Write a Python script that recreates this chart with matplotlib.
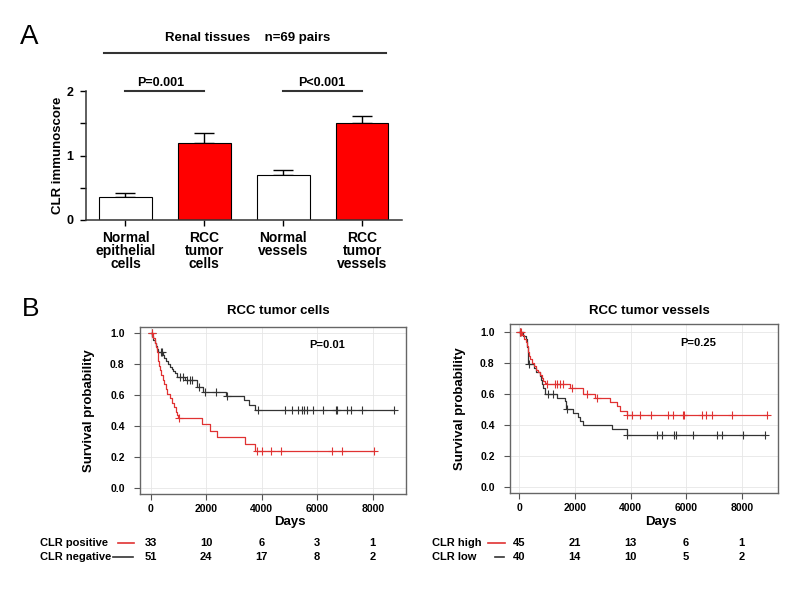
import matplotlib
matplotlib.use("Agg")
import matplotlib.pyplot as plt
import numpy as np
from matplotlib import transforms
from matplotlib.lines import Line2D

plt.rcParams["font.family"] = ["Liberation Sans", "DejaVu Sans"]
plt.rcParams["font.weight"] = "bold"

# Panel A data
groups = ["Normal\nepithelial\ncells", "RCC\ntumor\ncells", "Normal\nvessels", "RCC\ntumor\nvessels"]
scores = [0.35, 1.19, 0.70, 1.51]
score_err = [0.07, 0.16, 0.07, 0.11]
bar_colors = ["white", "red", "white", "red"]

# Panel B, RCC tumor cells
pos_t = [0, 80, 150, 190, 220, 250, 280, 310, 340, 380, 430, 480, 540, 600, 680, 760, 830, 900, 960, 1000,
         1850, 2150, 2380, 3400, 3760]
pos_s = [1.0, 0.97, 0.94, 0.91, 0.88, 0.85, 0.82, 0.79, 0.76, 0.73, 0.70, 0.67, 0.64, 0.61, 0.58, 0.55, 0.52,
         0.49, 0.47, 0.45, 0.41, 0.37, 0.33, 0.285, 0.24]
pos_cens = [30, 1010, 3830, 4020, 4340, 4690, 6520, 6900, 8050]
neg_t = [0, 50, 100, 150, 200, 240, 280, 430, 490, 560, 630, 700, 760, 820, 880, 960, 1250, 1680, 1900, 2700,
         3350, 3550, 3750]
neg_s = [1.0, 0.98, 0.96, 0.94, 0.92, 0.90, 0.88, 0.86, 0.84, 0.82, 0.80, 0.785, 0.77, 0.755, 0.74, 0.72, 0.70,
         0.65, 0.62, 0.595, 0.565, 0.535, 0.505]
neg_cens = [40, 370, 410, 1060, 1170, 1310, 1400, 1490, 1730, 1950, 2350, 2750, 3870, 4840, 5080, 5300, 5440,
            5535, 5622, 5860, 6200, 6680, 6725, 7064, 7208, 7605, 8780]

# Panel B, RCC tumor vessels
high_t = [0, 90, 180, 230, 270, 300, 330, 360, 400, 445, 520, 600, 680, 745, 800, 865, 920, 985, 1825, 2305,
          2725, 3265, 3505, 3625, 3865]
high_s = [1.0, 0.978, 0.956, 0.933, 0.911, 0.889, 0.867, 0.844, 0.822, 0.80, 0.778, 0.756, 0.74, 0.72, 0.70,
          0.68, 0.67, 0.66, 0.635, 0.60, 0.57, 0.545, 0.52, 0.49, 0.46]
high_cens = [20, 60, 1010, 1285, 1345, 1465, 1585, 1885, 2425, 2785, 3890, 4043, 4342, 4727, 5360, 5518, 5878,
             5935, 6561, 6716, 6921, 7641, 8900]
low_t = [0, 115, 235, 265, 285, 300, 312, 325, 540, 600, 745, 790, 830, 865, 920, 1345, 1645, 1690, 1945, 2125,
         2185, 2305, 3325, 3865]
low_s = [1.0, 0.975, 0.95, 0.925, 0.90, 0.875, 0.85, 0.79, 0.765, 0.74, 0.715, 0.69, 0.665, 0.64, 0.60, 0.575,
         0.55, 0.50, 0.475, 0.45, 0.425, 0.40, 0.37, 0.335]
low_cens = [30, 360, 1045, 1225, 1720, 3890, 4943, 5123, 5566, 5638, 6262, 7103, 7283, 8063, 8844]

risk_days = [0, 2000, 4000, 6000, 8000]
pos_risk = [33, 10, 6, 3, 1]
neg_risk = [51, 24, 17, 8, 2]
high_risk = [45, 21, 13, 6, 1]
low_risk = [40, 14, 10, 5, 2]

KM_RED = "#e03232"
KM_BLACK = "#333333"
W, H = 800, 605

fig = plt.figure(figsize=(8, 6.05), dpi=100)

# ---- Panel A ----
axA = fig.add_axes([86 / W, 1 - 220 / H, 315.7 / W, 129 / H])
x = np.arange(len(groups))
axA.bar(x, scores, width=0.665, color=bar_colors, edgecolor="black", linewidth=0.8, zorder=2)
axA.errorbar(x, scores, yerr=[np.zeros(4), score_err], fmt="none", ecolor="black",
             elinewidth=1, capsize=7, capthick=1, zorder=1)
axA.set_xlim(-0.5, 3.5)
axA.set_ylim(0, 2)
axA.set_yticks([0, 1, 2])
axA.set_yticks([0.5, 1.5], minor=True)
axA.set_xticks(x)
axA.set_xticklabels(groups, fontsize=10, linespacing=0.92)
axA.tick_params(axis="y", which="both", direction="out", length=4, width=1, pad=5, labelsize=9)
axA.tick_params(axis="x", direction="out", length=4, width=1, pad=4)
for sp in ["top", "right"]:
    axA.spines[sp].set_visible(False)
for sp in ["left", "bottom"]:
    axA.spines[sp].set_color("#333333")
    axA.spines[sp].set_linewidth(1.1)
axA.set_ylabel("CLR immunoscore", fontsize=9.5, fontweight="bold")
axA.yaxis.set_label_coords(-0.07, 0.5)

axA.plot([0, 1], [2, 2], color="#333333", lw=1.5, clip_on=False)
axA.plot([2, 3], [2, 2], color="#333333", lw=1.5, clip_on=False)
axA.text(0.45, 2.13, "P=0.001", ha="center", va="center", fontsize=9)
axA.text(2.48, 2.13, "P<0.001", ha="center", va="center", fontsize=9)

fig.text(248 / W, 1 - 38 / H, "Renal tissues    n=69 pairs", ha="center", va="center", fontsize=9.5)
fig.add_artist(Line2D([104 / W, 386 / W], [1 - 53.3 / H] * 2, color="#333333", lw=1.5))

fig.text(20 / W, 1 - 37 / H, "A", ha="left", va="center", fontsize=20, fontweight="normal")
fig.text(22 / W, 1 - 309 / H, "B", ha="left", va="center", fontsize=19, fontweight="normal")


# ---- Panel B ----
def km_curve(ax, t, s, cens, color):
    end = max(t[-1], max(cens))
    ax.step(list(t) + [end], list(s) + [s[-1]], where="post", color=color, lw=0.9)
    idx = np.searchsorted(t, cens, side="right") - 1
    cy = np.array(s)[idx]
    ax.plot(cens, cy, ls="none", marker="+", ms=6, mew=0.8, color=color)


def km_axes(rect, xlim, ylim, title, pval, title_y, ylab_x, xlab_y):
    ax = fig.add_axes(rect)
    ax.set_xlim(*xlim)
    ax.set_ylim(*ylim)
    ax.set_xticks(risk_days)
    ax.set_yticks([0, 0.2, 0.4, 0.6, 0.8, 1.0])
    ax.set_yticklabels(["0.0", "0.2", "0.4", "0.6", "0.8", "1.0"])
    ax.grid(True, color="#e6e6e6", lw=0.6)
    ax.set_axisbelow(True)
    ax.tick_params(axis="y", direction="out", length=4, width=0.8, color="#555555", labelsize=7.5, pad=7)
    ax.tick_params(axis="x", direction="out", length=4, width=0.8, color="#555555", labelsize=7.5, pad=3)
    for sp in ax.spines.values():
        sp.set_color("#666666")
        sp.set_linewidth(1.0)
    ax.set_xlabel("Days", fontsize=9.5, fontweight="bold")
    ax.xaxis.set_label_coords(0.563, xlab_y)
    ax.set_ylabel("Survival probability", fontsize=9.5, fontweight="bold")
    ax.yaxis.set_label_coords(ylab_x, 0.5)
    ax.text(0.52, title_y, title, transform=ax.transAxes, ha="center", va="center", fontsize=9.5)
    ax.text(0.704, 0.89, pval, transform=ax.transAxes, ha="center", va="center", fontsize=8)
    return ax


ax1 = km_axes([140 / W, 1 - 494 / H, 266 / W, 167.3 / H], (-386, 9200), (-0.041, 1.043),
              "RCC tumor cells", "P=0.01", 1.096, -0.17, -0.13)
km_curve(ax1, neg_t, neg_s, neg_cens, KM_BLACK)
km_curve(ax1, pos_t, pos_s, pos_cens, KM_RED)

ax2 = km_axes([510 / W, 1 - 493.3 / H, 267.7 / W, 169 / H], (-335, 9295), (-0.043, 1.048),
              "RCC tumor vessels", "P=0.25", 1.08, -0.163, -0.132)
km_curve(ax2, low_t, low_s, low_cens, KM_BLACK)
km_curve(ax2, high_t, high_s, high_cens, KM_RED)

# numbers at risk
row1 = 1 - 543.3 / H
row2 = 1 - 556.7 / H
for ax, lx, labels, lines, risks in [
    (ax1, 40, ["CLR positive", "CLR negative"], [(118, 134), (113, 133)], [pos_risk, neg_risk]),
    (ax2, 432, ["CLR high", "CLR low"], [(488, 505), (495, 504)], [high_risk, low_risk]),
]:
    tr = transforms.blended_transform_factory(ax.transData, fig.transFigure)
    for row, lab, (x0, x1), col, risk in zip([row1, row2], labels, lines, [KM_RED, KM_BLACK], risks):
        fig.text(lx / W, row, lab, ha="left", va="center", fontsize=8)
        fig.add_artist(Line2D([x0 / W, x1 / W], [row, row], color=col, lw=1.2))
        for d, n in zip(risk_days, risk):
            ax.text(d, row, str(n), transform=tr, ha="center", va="center", fontsize=8)

fig.savefig("out.png", dpi=100)
